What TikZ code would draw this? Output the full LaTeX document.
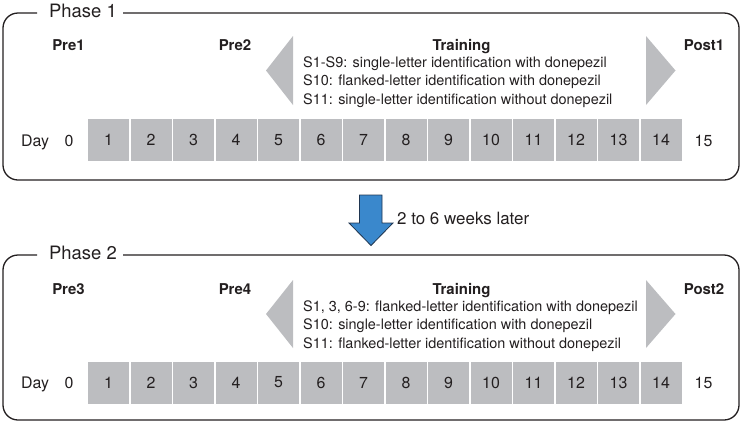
\documentclass[tikz,border=0pt]{standalone}
\usepackage{fontspec}
\setmainfont{TeX Gyre Heros}
\definecolor{ink}{HTML}{231F20}
\definecolor{cellgray}{HTML}{BCBDC0}
\definecolor{arrowblue}{HTML}{3A88CC}
\definecolor{arrowline}{HTML}{1F3550}
\begin{document}
\begin{tikzpicture}[x=1bp,y=-1bp,
  framebox/.style={draw=ink,line width=1.3bp,rounded corners=15bp},
  phasetitle/.style={anchor=base,inner sep=0pt,font=\fontsize{18.5}{20}\selectfont,text=ink},
  stagelabel/.style={anchor=base,inner sep=0pt,font=\bfseries\fontsize{15}{18}\selectfont,text=ink},
  subline/.style={anchor=base west,inner sep=0pt,font=\fontsize{14.5}{17}\selectfont,text=ink},
  daycell/.style={fill=cellgray,minimum width=41bp,minimum height=42bp,inner sep=0pt,font=\fontsize{16}{18}\selectfont,text=ink},
  daylabel/.style={anchor=base,inner sep=0pt,font=\fontsize{16}{18}\selectfont,text=ink},
  gapnote/.style={anchor=base west,inner sep=0pt,font=\fontsize{17}{20}\selectfont,text=ink},
  marker/.style={fill=cellgray},
  bigarrow/.style={fill=arrowblue,draw=arrowline,line width=0.8bp,line join=miter},
]
\useasboundingbox (0,0) rectangle (743,426);

% ---------------- Phase 1 ----------------
\draw[framebox] (37,13) -- (3,13) -- (3,180) -- (739,180) -- (739,13) -- (123,13);
\node[phasetitle] (ph1) at (83,17.5) {Phase 1};
\node[stagelabel] (pre1) at (68.5,50) {Pre1};
\node[stagelabel] (pre2) at (235,50) {Pre2};
\node[stagelabel] (train1) at (461.5,50) {Training};
\node[stagelabel] (post1) at (704,50) {Post1};
\fill[marker] (293,36) -- (266,70.5) -- (293,105) -- cycle;
\fill[marker] (646,36) -- (675.5,70.5) -- (646,105) -- cycle;
\node[subline] (p1la) at (303,67) {S1-S9: single-letter identification with donepezil};
\node[subline] (p1lb) at (303,85.5) {S10: flanked-letter identification with donepezil};
\node[subline] (p1lc) at (303,104) {S11: single-letter identification without donepezil};
\node[daylabel] (p1day) at (35,146) {Day};
\node[daylabel] (p1zero) at (69,146) {0};
\foreach \i in {1,...,14} \node[daycell] (p1c\i) at ({108.5+(\i-1)*42.5},140) {\i};
\node[daylabel] (p1end) at (703.5,146) {15};

% ---------------- Transition ----------------
\filldraw[bigarrow] (359.5,195) -- (382,195) -- (382,223) -- (393,223) -- (371,245.5) -- (349,223) -- (359.5,223) -- cycle;
\node[gapnote] (gap) at (397,224) {2 to 6 weeks later};

% ---------------- Phase 2 ----------------
\draw[framebox] (37,255) -- (3,255) -- (3,420) -- (739,420) -- (739,255) -- (123,255);
\node[phasetitle] (ph2) at (83,259.5) {Phase 2};
\node[stagelabel] (pre3) at (68.5,294) {Pre3};
\node[stagelabel] (pre4) at (235,294) {Pre4};
\node[stagelabel] (train2) at (461.5,294) {Training};
\node[stagelabel] (post2) at (704,294) {Post2};
\fill[marker] (293,280) -- (266,314) -- (293,348) -- cycle;
\fill[marker] (646,280) -- (675.5,314) -- (646,348) -- cycle;
\node[subline] (p2la) at (303,311) {S1, 3, 6-9: flanked-letter identification with donepezil};
\node[subline] (p2lb) at (303,329.5) {S10: single-letter identification with donepezil};
\node[subline] (p2lc) at (303,348) {S11: flanked-letter identification without donepezil};
\node[daylabel] (p2day) at (35,388.5) {Day};
\node[daylabel] (p2zero) at (69,388.5) {0};
\foreach \i in {1,...,14} \node[daycell] (p2c\i) at ({108.5+(\i-1)*42.5},382.5) {\i};
\node[daylabel] (p2end) at (703.5,388.5) {15};
\end{tikzpicture}
\end{document}
